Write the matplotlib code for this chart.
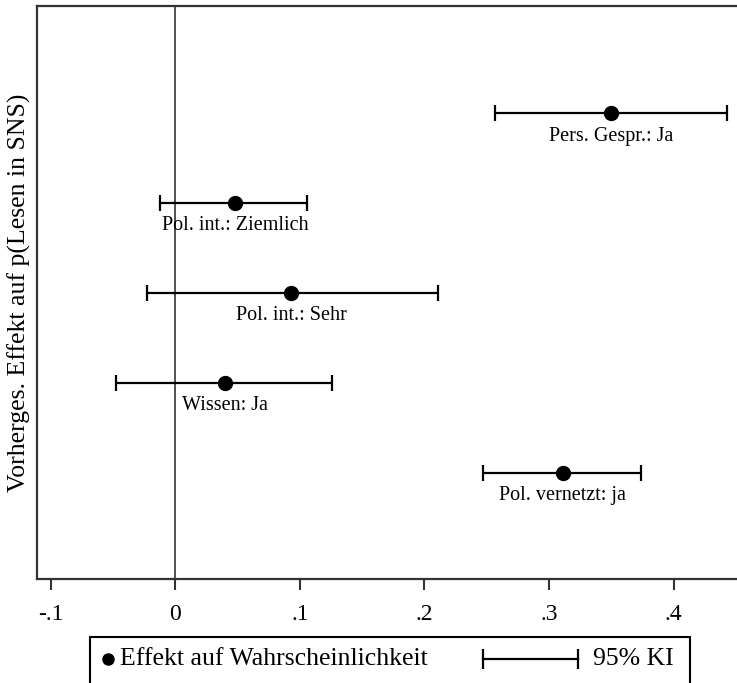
import matplotlib
matplotlib.use("Agg")
import matplotlib.pyplot as plt
from matplotlib.lines import Line2D
from matplotlib.patches import Rectangle

plt.rcParams['font.family'] = ['Liberation Serif', 'DejaVu Serif']

# Data
labels = ["Pers. Gespr.: Ja", "Pol. int.: Ziemlich", "Pol. int.: Sehr", "Wissen: Ja", "Pol. vernetzt: ja"]
effects = [0.350, 0.048, 0.093, 0.040, 0.311]
ci_low = [0.257, -0.0125, -0.023, -0.048, 0.247]
ci_high = [0.443, 0.106, 0.211, 0.126, 0.374]
positions = [5, 4, 3, 2, 1]
xticks = [-0.1, 0, 0.1, 0.2, 0.3, 0.4]
xticklabels = ["-.1", "0", ".1", ".2", ".3", ".4"]
legend_labels = ["Effekt auf Wahrscheinlichkeit", "95% KI"]

W, H = 737, 683
fig = plt.figure(figsize=(W / 100, H / 100), dpi=100)
ax = fig.add_axes([37 / W, (H - 579) / H, (745 - 37) / W, (579 - 6) / H])

ax.axvline(0, color='#333333', lw=1.2, zorder=1)

xerr = [[e - l for e, l in zip(effects, ci_low)], [h - e for e, h in zip(effects, ci_high)]]
ax.errorbar(effects, positions, xerr=xerr, fmt='none', ecolor='black',
            elinewidth=1.6, capsize=6, capthick=1.6, zorder=2)
ax.plot(effects, positions, 'o', color='black', markersize=10, zorder=3)

for x, y, t in zip(effects, positions, labels):
    ax.annotate(t, (x, y), xytext=(0, -23), textcoords='offset pixels',
                ha='center', va='center', fontsize=14.5)

ax.set_xlim(-0.1112, 0.4574)
ax.set_ylim(-0.18, 6.19)
ax.set_xticks(xticks)
ax.set_xticklabels(xticklabels, fontsize=17)
ax.set_yticks([])
ax.tick_params(axis='x', length=8, width=1.5, pad=10, color='#333333')
for s in ['left', 'bottom', 'top']:
    ax.spines[s].set_linewidth(1.6)
    ax.spines[s].set_color('#333333')
ax.spines['right'].set_visible(False)
ax.set_ylabel("Vorherges. Effekt auf p(Lesen in SNS)", fontsize=18.5, labelpad=4)

# Legend (drawn in figure pixel coordinates)
def fx(px):
    return px / W

def fy(py):
    return (H - py) / H

fig.patches.append(Rectangle((fx(90), fy(695)), fx(690) - fx(90), fy(637) - fy(695),
                             transform=fig.transFigure, fill=False, edgecolor='black',
                             linewidth=1.5))
ly = 659
fig.add_artist(Line2D([fx(108)], [fy(ly)], ls='none', marker='o', color='black',
                      markersize=8, transform=fig.transFigure))
fig.text(fx(120), fy(ly), legend_labels[0], fontsize=18.5, va='center', ha='left')
fig.add_artist(Line2D([fx(483), fx(578)], [fy(ly), fy(ly)], color='black', lw=1.6,
                      marker='|', markersize=14, markeredgewidth=1.6,
                      transform=fig.transFigure))
fig.text(fx(593), fy(ly), legend_labels[1], fontsize=18.5, va='center', ha='left')

fig.savefig("out.png", dpi=100)
